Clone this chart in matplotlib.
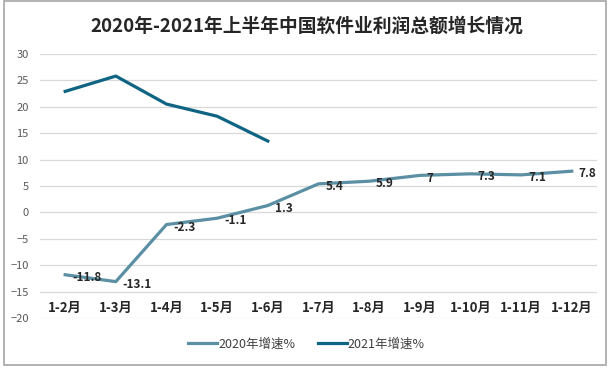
import matplotlib
matplotlib.use('Agg')
import matplotlib.pyplot as plt
from matplotlib.patches import Rectangle

plt.rcParams['font.family'] = ['Noto Sans CJK SC', 'DejaVu Sans']

# 数据
months = ['1-2月', '1-3月', '1-4月', '1-5月', '1-6月', '1-7月',
          '1-8月', '1-9月', '1-10月', '1-11月', '1-12月']
growth_2020 = [-11.8, -13.1, -2.3, -1.1, 1.3, 5.4, 5.9, 7, 7.3, 7.1, 7.8]
growth_2021 = [22.9, 25.8, 20.5, 18.2, 13.5]
labels_2020 = ['-11.8', '-13.1', '-2.3', '-1.1', '1.3', '5.4', '5.9', '7', '7.3', '7.1', '7.8']

c2020 = '#5B8FA3'
c2021 = '#0E6482'

fig = plt.figure(figsize=(6.13, 3.69), dpi=100)
ax = fig.add_axes([0.065, 0.138, 0.909, 0.716])

x = list(range(len(months)))
ax.plot(x, growth_2020, color=c2020, linewidth=2.3, label='2020年增速%', zorder=3)
ax.plot(x[:len(growth_2021)], growth_2021, color=c2021, linewidth=2.3, label='2021年增速%', zorder=3)

# 数据标签
for xi, yi, t in zip(x, growth_2020, labels_2020):
    ax.annotate(t, (xi, yi), xytext=(5, -2), textcoords='offset points',
                ha='left', va='center', fontsize=8.5, fontweight='bold', color='#262626')

ax.set_xlim(-0.5, len(months) - 0.5)
ax.set_ylim(-20, 30)
ax.set_yticks(range(-20, 31, 5))
ax.grid(axis='y', color='#D9D9D9', linewidth=0.9)
ax.set_axisbelow(True)
for s in ax.spines.values():
    s.set_visible(False)

ax.set_xticks(x)
ax.set_xticklabels(months, fontsize=9.5, fontweight='bold', color='#262626')
ax.tick_params(axis='x', length=0, pad=-12)
ax.tick_params(axis='y', length=0, pad=8, labelsize=8, labelcolor='#595959')

fig.text(0.5, 0.93, '2020年-2021年上半年中国软件业利润总额增长情况',
         ha='center', va='center', fontsize=13.5, fontweight='bold', color='#262626')

ax.legend(loc='center', bbox_to_anchor=(0.5, 0.068), bbox_transform=fig.transFigure,
          ncol=2, frameon=False, fontsize=9, handlelength=2.3, handletextpad=0.1,
          columnspacing=1.8, labelcolor='#404040')

fig.patches.append(Rectangle((4 / 613, 1 - 365 / 369), 602 / 613, 364 / 369,
                             transform=fig.transFigure, fill=False,
                             edgecolor='#A6A6A6', linewidth=1.2))

plt.savefig('out.png', dpi=100)
plt.close()
